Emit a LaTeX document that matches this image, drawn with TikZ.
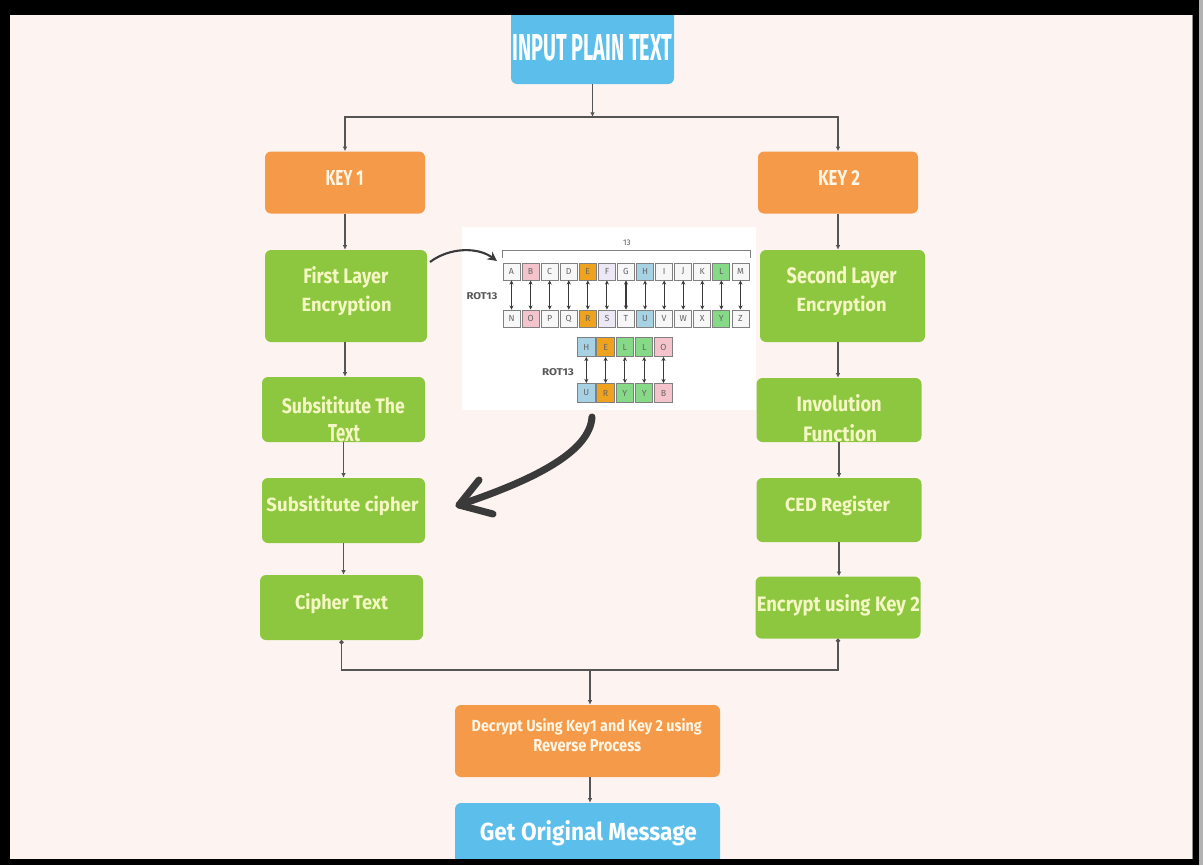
\documentclass[tikz,border=0pt]{standalone}
\usepackage{fontspec}
\setmainfont{Fira Sans}
\usepackage{graphicx}
\usetikzlibrary{arrows.meta}
\newlength\px
\setlength\px{0.03cm}
\definecolor{bgpink}{HTML}{FDF4F2}
\definecolor{boxblue}{HTML}{5CBFEB}
\definecolor{boxorange}{HTML}{F59A48}
\definecolor{boxgreen}{HTML}{8DC63F}
\definecolor{txtcream}{HTML}{F4F7C4}
\definecolor{txtwarm}{HTML}{FFF6E6}
\definecolor{linegray}{HTML}{555555}
\definecolor{arrowdark}{HTML}{3A3A3A}
\definecolor{cpink}{HTML}{F5C3CB}
\definecolor{corange}{HTML}{EFA21E}
\definecolor{cblue}{HTML}{A6D2E4}
\definecolor{cgreen}{HTML}{86D986}
\definecolor{clav}{HTML}{ECE8F5}
\definecolor{cwhite}{HTML}{F7F7F7}
\definecolor{cedge}{HTML}{808080}
\newcommand\fitxt[3]{\resizebox{#1\px}{#2\px}{#3}}
\tikzset{
  box/.style={rectangle, rounded corners=0.18cm, inner sep=0pt, draw=none},
  bx/.style 2 args={minimum width=#1*\px, minimum height=#2*\px},
  bbox/.style={box, fill=boxblue},
  obox/.style={box, fill=boxorange},
  gbox/.style={box, fill=boxgreen},
  lbl/.style={anchor=base, inner sep=0pt, font=\bfseries},
  conn/.style={draw=linegray, line width=1.1pt, -{Latex[length=4pt,width=4pt]}},
  lbox/.style={rectangle, draw=cedge, line width=0.8pt, inner sep=0pt,
    minimum width=17*\px, minimum height=17*\px, text=black!60,
    font=\fontsize{7.5}{8}\selectfont},
  hbox/.style={lbox, minimum width=17.5*\px, minimum height=19*\px},
  rotarr/.style={draw=arrowdark, line width=0.9pt, {Stealth[length=3.5pt,width=3.5pt]}-{Stealth[length=3.5pt,width=3.5pt]}},
  small/.style={inner sep=0pt, text=black!65, font=\fontsize{7}{8}\selectfont}
}
\begin{document}
\begin{tikzpicture}[x=0.03cm,y=-0.03cm]
\useasboundingbox (0,0) rectangle (1203,865);
% ---- frame ----
\fill[black] (0,0) rectangle (1203,865);
\fill[gray!60] (1199,0) rectangle (1203,865);
\fill[gray] (9.5,14.5) rectangle (1192.5,858.5);
\begin{scope}
\clip (10,15) rectangle (1192,858);
\fill[bgpink] (0,0) rectangle (1203,865);

% ---- boxes ----
\node[bbox, bx={163}{79}] (in) at (592.5,44.5) {};
\node[obox, bx={160}{62}] (key1) at (345,182.5) {};
\node[obox, bx={160}{62}] (key2) at (838,182.5) {};
\node[gbox, bx={162}{92}] (l1) at (346,296) {};
\node[gbox, bx={165}{92}] (r1) at (842.5,296) {};
\node[gbox, bx={163}{65}] (l2) at (343.5,409.5) {};
\node[gbox, bx={165}{64}] (r2) at (839,410) {};
\node[gbox, bx={163}{65}] (l3) at (343.5,510.5) {};
\node[gbox, bx={165}{64}] (r3) at (839,510) {};
\node[gbox, bx={163}{65}] (l4) at (341.5,607.5) {};
\node[gbox, bx={165}{62}] (r4) at (838,607.5) {};
\node[obox, bx={265}{72}] (dec) at (587.5,741) {};
\node[bbox, bx={265}{66}] (out) at (587.5,836) {};

% ---- labels ----
\node[lbl, text=white] (tin) at (592.5,60) {\fitxt{160}{26}{INPUT PLAIN TEXT}};
\node[lbl, text=txtwarm] (tk1) at (344.5,185) {\fitxt{38}{15}{KEY 1}};
\node[lbl, text=txtwarm] (tk2) at (839,185) {\fitxt{42}{15}{KEY 2}};
\node[lbl, text=txtcream] (tl1a) at (345.8,283.3) {\fitxt{85}{17}{First Layer}};
\node[lbl, text=txtcream] (tl1b) at (346.7,311.7) {\fitxt{90}{15.5}{Encryption}};
\node[lbl, text=txtcream] (tr1a) at (841.7,283.3) {\fitxt{110}{17}{Second Layer}};
\node[lbl, text=txtcream] (tr1b) at (841.7,311.7) {\fitxt{90}{15.5}{Encryption}};
\node[lbl, text=txtcream] (tl2a) at (343.3,413.3) {\fitxt{123}{17}{Subsititute The}};
\node[lbl, text=txtcream] (tl2b) at (344,441.7) {\fitxt{32}{17}{Text}};
\node[lbl, text=txtcream] (tr2a) at (839.2,411.7) {\fitxt{85}{17}{Involution}};
\node[lbl, text=txtcream] (tr2b) at (840,441.7) {\fitxt{74}{17}{Function}};
\node[lbl, text=txtcream] (tl3) at (342.5,511.7) {\fitxt{152}{15.5}{Subsititute cipher}};
\node[lbl, text=txtcream] (tr3) at (837.5,511.7) {\fitxt{105}{15.5}{CED Register}};
\node[lbl, text=txtcream] (tl4) at (341.5,609) {\fitxt{93}{16}{Cipher Text}};
\node[lbl, text=txtcream] (tr4) at (838.3,611.7) {\fitxt{163}{17}{Encrypt using Key 2}};
\node[lbl, text=txtwarm] (tdeca) at (586.7,731.7) {\fitxt{230}{13}{Decrypt Using Key1 and Key 2 using}};
\node[lbl, text=txtwarm] (tdecb) at (587.3,751.7) {\fitxt{108}{12}{Reverse Process}};
\node[lbl, text=white] (tout) at (588.3,840) {\fitxt{217}{20}{Get Original Message}};

% ---- connectors ----
\coordinate (jt) at (592.5,117);
\coordinate (jb) at (590,670);
\draw[conn] (in.south) -- (jt);
\draw[conn] (jt) -| (key1.north);
\draw[conn] (jt) -| (key2.north);
\draw[conn] (key1.south) -- (key1.south |- l1.north);
\draw[conn] (key2.south) -- (key2.south |- r1.north);
\draw[conn] (l1.south -| key1.south) -- (key1.south |- l2.north);
\draw[conn] (r1.south -| key2.south) -- (key2.south |- r2.north);
\draw[conn] (l2.south) -- (l2.south |- l3.north);
\draw[conn] (r2.south) -- (r2.south |- r3.north);
\draw[conn] (l3.south) -- (l3.south |- l4.north);
\draw[conn] (r3.south) -- (r3.south |- r4.north);
\draw[draw=linegray, line width=1.1pt, {Circle[length=3.5pt]}-] (l4.south) |- (jb);
\draw[draw=linegray, line width=1.1pt, {Circle[length=3.5pt]}-] (r4.south) |- (jb);
\draw[conn] (jb) -- (jb |- dec.north);
\draw[conn] (dec.south -| jb) -- (out.north -| jb);

% ---- ROT13 illustration ----
\node[fill=white, inner sep=0pt, bx={294}{183}] (img) at (609,318.5) {};
\draw[cedge, line width=0.8pt] (502,258) -- (502,250) -- (750,250) -- (750,258);
\node[small] (t13) at (627,243) {13};
\foreach \L/\c [count=\i from 0] in {A/cwhite,B/cpink,C/cwhite,D/cwhite,E/corange,F/clav,G/cwhite,H/cblue,I/cwhite,J/cwhite,K/cwhite,L/cgreen,M/cwhite}
  \node[lbox, fill=\c] (t\i) at ({511.5+19.08*\i},271.5) {\L};
\foreach \L/\c [count=\i from 0] in {N/cwhite,O/cpink,P/cwhite,Q/cwhite,R/corange,S/clav,T/cwhite,U/cblue,V/cwhite,W/cwhite,X/cwhite,Y/cgreen,Z/cwhite}
  \node[lbox, fill=\c] (b\i) at ({511.5+19.08*\i},318.5) {\L};
\foreach \i in {0,...,12}
  \draw[rotarr] (t\i) -- (b\i);
\node[small, font=\bfseries\fontsize{7}{8}\selectfont] (rot1) at (482,296) {\fitxt{31}{7}{ROT13}};
\foreach \L/\c [count=\i from 0] in {H/cblue,E/corange,L/cgreen,L/cgreen,O/cpink}
  \node[hbox, fill=\c] (h\i) at ({586.3+19.3*\i},347) {\L};
\foreach \L/\c [count=\i from 0] in {U/cblue,R/corange,Y/cgreen,Y/cgreen,B/cpink}
  \node[hbox, fill=\c] (u\i) at ({586.3+19.3*\i},393) {\L};
\foreach \i in {0,...,4}
  \draw[rotarr] (h\i) -- (u\i);
\node[small, font=\bfseries\fontsize{7}{8}\selectfont] (rot2) at (558,371.7) {\fitxt{32}{7}{ROT13}};

% ---- curved arrows ----
\coordinate (a1s) at (430,262);
\coordinate (a1e) at (497,261);
\draw[arrowdark, line width=1.8pt, -{Stealth[length=8pt,width=8pt]}] (a1s) .. controls (450,247) and (478,247) .. (a1e);
\coordinate (a2s) at (592,417);
\coordinate (a2e) at (459,505);
\draw[arrowdark, line width=6pt, line cap=round] (a2s) .. controls (590,450) and (540,478) .. (a2e);
\draw[arrowdark, line width=6pt, line cap=round, line join=round] (479,480) -- (a2e) -- (493,514);
\end{scope}
\end{tikzpicture}
\end{document}
